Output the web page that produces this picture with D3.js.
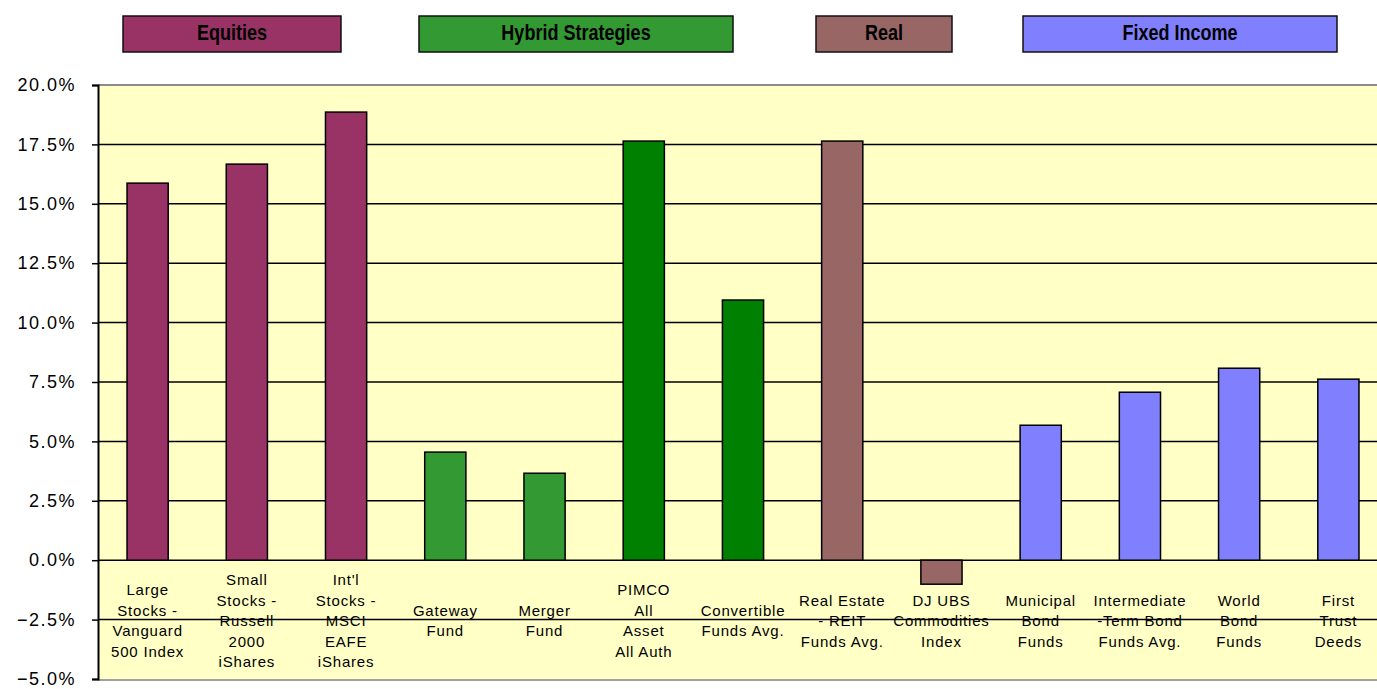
<!DOCTYPE html>
<html>
<head>
<meta charset="utf-8">
<script src="https://cdn.jsdelivr.net/npm/d3@7"></script>
<style>
  body { margin: 0; background: #fff; }
  svg { display: block; }
</style>
</head>
<body>
<svg width="1377" height="689"></svg>
<script>
// chart data
var categories = [
  "Large|Stocks -|Vanguard|500 Index",
  "Small|Stocks -|Russell|2000|iShares",
  "Int'l|Stocks -|MSCI|EAFE|iShares",
  "Gateway|Fund",
  "Merger|Fund",
  "PIMCO|All|Asset|All Auth",
  "Convertible|Funds Avg.",
  "Real Estate|- REIT|Funds Avg.",
  "DJ UBS|Commodities|Index",
  "Municipal|Bond|Funds",
  "Intermediate|-Term Bond|Funds Avg.",
  "World|Bond|Funds",
  "First|Trust|Deeds"
];
var returns = [15.87, 16.67, 18.86, 4.55, 3.66, 17.64, 10.95, 17.64, -1.01, 5.68, 7.07, 8.08, 7.62];
var groups = ["eq", "eq", "eq", "hy1", "hy1", "hy2", "hy2", "re", "re", "fi", "fi", "fi", "fi"];
var yTicks = [-5, -2.5, 0, 2.5, 5, 7.5, 10, 12.5, 15, 17.5, 20];
var legendNames = ["Equities", "Hybrid Strategies", "Real", "Fixed Income"];

var colors = { eq: "#993366", hy1: "#339933", hy2: "#008000", re: "#996666", fi: "#8080ff" };
var legendColors = ["#993366", "#339933", "#996666", "#8080ff"];
var legendBoxes = [[123, 218], [419, 314], [816, 136], [1023, 314]];

var svg = d3.select("svg");
var plotLeft = 98, plotTop = 85, plotBottom = 679, plotRight = 1388;

var x = d3.scaleBand().domain(d3.range(categories.length)).range([plotLeft, plotRight]);
var y = d3.scaleLinear().domain([-5, 20]).range([plotBottom, plotTop]);
var barW = x.bandwidth() * 0.415;

// plot background
svg.append("rect")
  .attr("x", plotLeft).attr("y", plotTop)
  .attr("width", plotRight - plotLeft).attr("height", plotBottom - plotTop)
  .attr("fill", "#ffffc6");

// category labels (gridlines are drawn over them)
var labels = svg.append("g").attr("class", "labels");
categories.forEach(function (c, i) {
  var lines = c.split("|");
  var lh = 20.5;
  var cy = 621;
  var t = labels.append("text")
    .attr("text-anchor", "middle")
    .attr("font-family", "Liberation Sans, Arial, sans-serif")
    .attr("font-size", 15)
    .attr("letter-spacing", 0.8)
    .attr("fill", "#000");
  lines.forEach(function (l, j) {
    t.append("tspan")
      .attr("x", x(i) + x.bandwidth() / 2)
      .attr("y", cy - (lines.length - 1) * lh / 2 + j * lh + 5)
      .text(l);
  });
});

// gridlines
svg.append("g")
  .selectAll("line")
  .data(yTicks.filter(function (d) { return d > -5 && d < 20; }))
  .enter()
  .append("line")
  .attr("x1", plotLeft).attr("x2", plotRight)
  .attr("y1", function (d) { return y(d); })
  .attr("y2", function (d) { return y(d); })
  .attr("stroke", "#000")
  .attr("stroke-width", 1.5);

// plot border top / bottom
svg.append("line").attr("x1", plotLeft).attr("x2", plotRight).attr("y1", plotTop).attr("y2", plotTop)
  .attr("stroke", "#8c8c8c").attr("stroke-width", 2);
svg.append("line").attr("x1", plotLeft).attr("x2", plotRight).attr("y1", plotBottom + 1).attr("y2", plotBottom + 1)
  .attr("stroke", "#a0a0a0").attr("stroke-width", 2);

// bars
svg.append("g")
  .selectAll("rect")
  .data(returns)
  .enter()
  .append("rect")
  .attr("x", function (d, i) { return x(i) + (x.bandwidth() - barW) / 2; })
  .attr("y", function (d) { return y(Math.max(0, d)); })
  .attr("width", barW)
  .attr("height", function (d) { return Math.abs(y(d) - y(0)); })
  .attr("fill", function (d, i) { return colors[groups[i]]; })
  .attr("stroke", "#000")
  .attr("stroke-width", 1.5);

// y axis
var yAxis = d3.axisLeft(y)
  .tickValues(yTicks)
  .tickSize(6)
  .tickPadding(16)
  .tickFormat(function (d) { return d3.format(".1f")(d) + "%"; });
var ya = svg.append("g").attr("transform", "translate(" + plotLeft + ",0)").call(yAxis);
ya.select(".domain").attr("stroke", "#000").attr("stroke-width", 2);
ya.selectAll(".tick line").attr("stroke", "#000").attr("stroke-width", 1.5);
ya.selectAll(".tick text")
  .attr("font-family", "Liberation Sans, Arial, sans-serif")
  .attr("font-size", 18)
  .attr("letter-spacing", 1.5)
  .attr("fill", "#000");

// legend boxes
var legend = svg.append("g").attr("class", "legend");
legendNames.forEach(function (name, i) {
  var b = legendBoxes[i];
  var cx = b[0] + b[1] / 2;
  legend.append("rect")
    .attr("x", b[0]).attr("y", 16)
    .attr("width", b[1]).attr("height", 36)
    .attr("fill", legendColors[i])
    .attr("stroke", "#111").attr("stroke-width", 1.5);
  legend.append("text")
    .attr("transform", "translate(" + cx + ",40) scale(0.82,1)")
    .attr("text-anchor", "middle")
    .attr("font-family", "Liberation Sans, Arial, sans-serif")
    .attr("font-weight", "bold")
    .attr("font-size", 22)
    .attr("fill", "#000")
    .text(name);
});
</script>
</body>
</html>
